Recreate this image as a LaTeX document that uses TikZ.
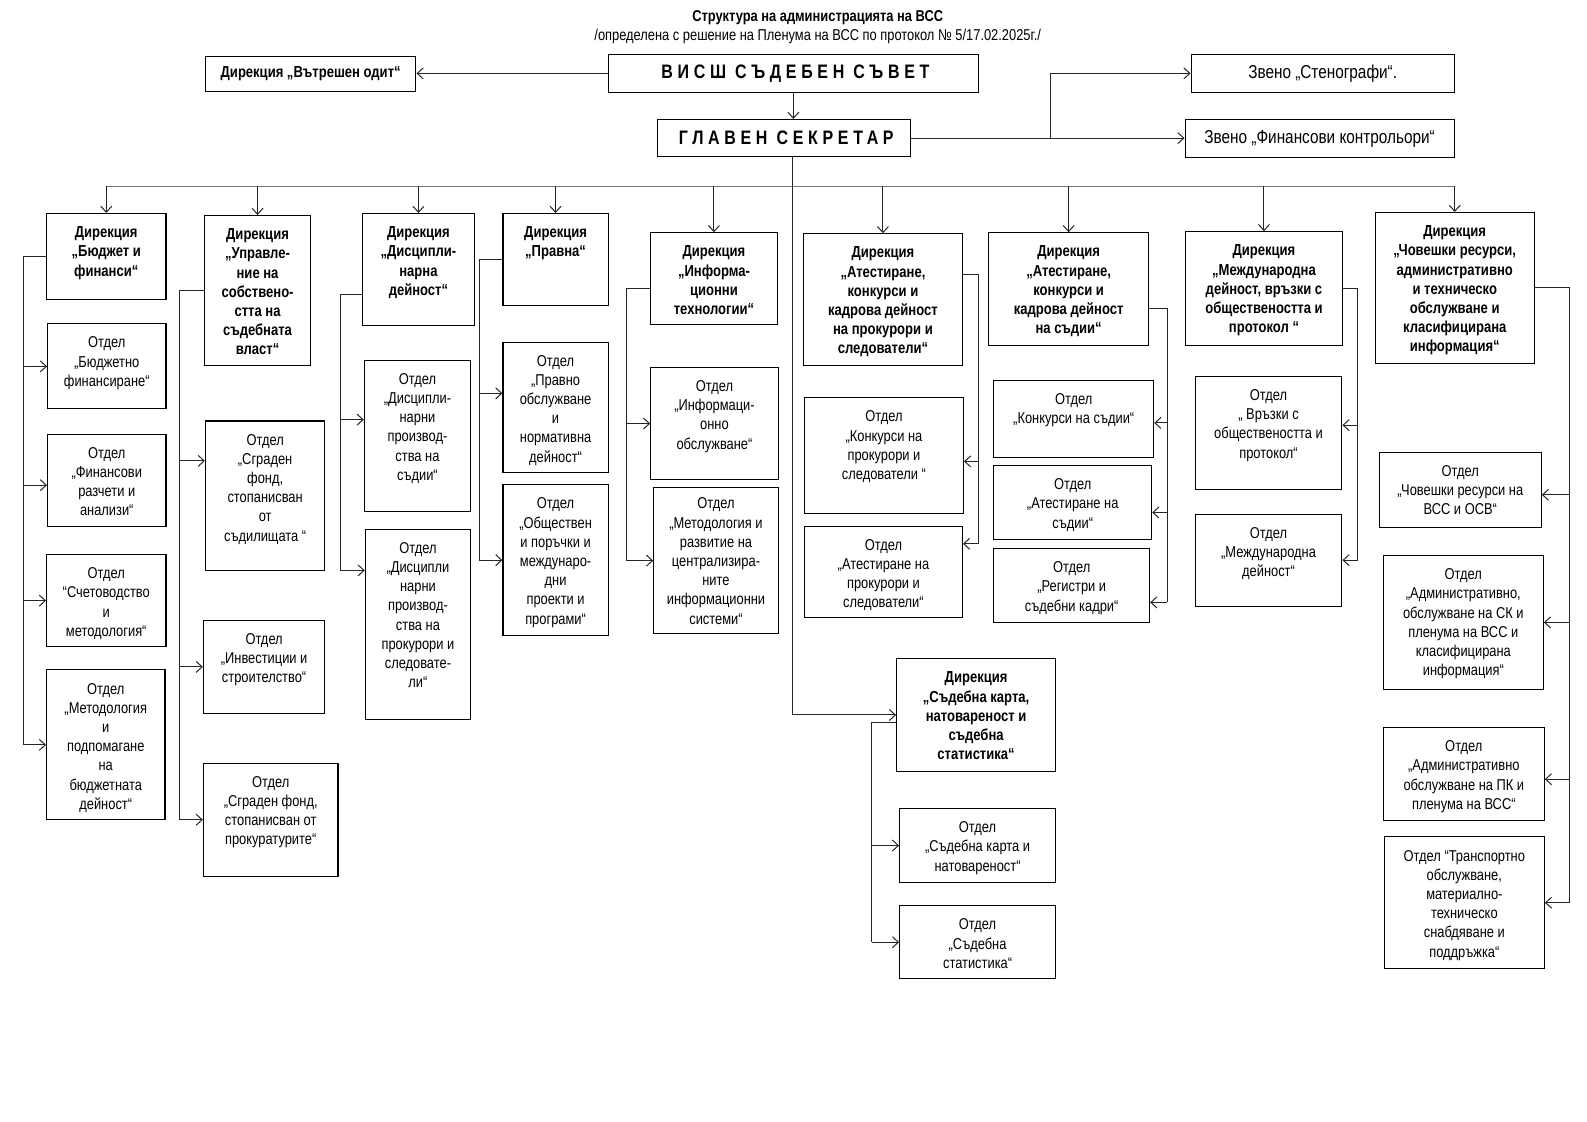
\documentclass[tikz,border=0pt]{standalone}
\usepackage{fontspec}
\setmainfont{Liberation Sans}[FakeStretch=0.82]
\newfontfamily\spcfont{Liberation Sans}[FakeStretch=0.82, LetterSpace=24]
\usetikzlibrary{fit,arrows.meta}
\newcommand\mkbox[7][0]{%
  \node[box, fit={(#3,#4)(#5,#6)}] (#2) {};
  \node[txt, anchor=north] (#2-t) at ([yshift=-13.5pt,yshift=#1pt]#2.north) {#7};}
\newcommand\mkdir[7][0]{%
  \node[box, fit={(#3,#4)(#5,#6)}] (#2) {};
  \node[txt, font=\bfseries\fontsize{15.9}{19.2}\selectfont, anchor=north] (#2-t) at ([yshift=-13.5pt,yshift=#1pt]#2.north) {#7};}
\tikzset{
  box/.style={draw=black, line width=1.1pt, inner sep=0pt},
  txt/.style={inner sep=0pt, align=center, font=\fontsize{15.7}{19.2}\selectfont,
    execute at begin node={\rule{0pt}{12pt}}},
  ln/.style={line width=1pt, draw=black!85},
  arr/.style={ln, -{Straight Barb[length=6pt,width=11pt]}},
  busline/.style={line width=1.4pt, draw=black!55},
}
\begin{document}
\begin{tikzpicture}[x=1.012pt,y=-1.012pt]
% titles
\node[font=\bfseries\fontsize{15.7}{19}\selectfont, inner sep=0pt] (title) at (808,17) {Структура  на администрацията на ВСС};
\node[font=\fontsize{15.7}{19}\selectfont, inner sep=0pt] (subtitle) at (808,36) {/определена с решение на Пленума на ВСС по протокол № 5/17.02.2025г./};
% top level
\node[box, fit={(601,54)(967,91)}] (vss) {};
\node[font=\spcfont\bfseries\fontsize{19.5}{22}\selectfont, inner sep=0pt] (vss-t) at ([xshift=2pt]vss.center) {ВИСШ СЪДЕБЕН СЪВЕТ};
\node[box, fit={(650,118)(900,155)}] (gs) {};
\node[font=\spcfont\bfseries\fontsize{19.5}{22}\selectfont, inner sep=0pt] (gs-t) at ([xshift=2pt]gs.center) {ГЛАВЕН СЕКРЕТАР};
\node[box, fit={(203,56)(411,90)}] (odit) {};
\node[font=\bfseries\fontsize{15.9}{19}\selectfont, inner sep=0pt] (odit-t) at (odit.center) {Дирекция „Вътрешен одит“};
\node[box, fit={(1177,54)(1437,91)}] (sten) {};
\node[font=\fontsize{18.7}{22}\selectfont, inner sep=0pt] (sten-t) at (sten.center) {Звено „Стенографи“.};
\node[box, fit={(1171,118)(1437,156)}] (fin) {};
\node[font=\fontsize{18.7}{22}\selectfont, inner sep=0pt] (fin-t) at (fin.center) {Звено „Финансови контрольори“};
% directorates
\mkdir{d1}{46}{211}{164}{296}{Дирекция\\„Бюджет и\\финанси“}
\mkdir{d2}{202}{213}{307}{361}{Дирекция\\„Управле-\\ние на\\собствено-\\стта на\\съдебната\\власт“}
\mkdir{d3}{358}{211}{469}{322}{Дирекция\\„Дисципли-\\нарна\\дейност“}
\mkdir{d4}{497}{211}{601}{302}{Дирекция\\„Правна“}
\mkdir{d5}{643}{230}{768}{321}{Дирекция\\„Информа-\\ционни\\технологии“}
\mkdir{d6}{794}{231}{951}{361}{Дирекция\\„Атестиране,\\конкурси и\\кадрова дейност\\на прокурори и\\следователи“}
\mkdir{d7}{977}{230}{1135}{341}{Дирекция\\„Атестиране,\\конкурси и\\кадрова дейност\\на съдии“}
\mkdir{d8}{1171}{229}{1327}{341}{Дирекция\\„Международна\\дейност,  връзки с\\обществеността  и\\протокол “}
\mkdir{d9}{1359}{210}{1516}{359}{Дирекция\\„Човешки ресурси,\\административно\\и техническо\\обслужване  и\\класифицирана\\информация“}
\mkdir{d10}{886}{651}{1043}{762}{Дирекция\\„Съдебна карта,\\натовареност  и\\съдебна\\статистика“}
% departments
\mkbox{o11}{47}{320}{164}{404}{Отдел\\„Бюджетно\\финансиране“}
\mkbox{o12}{47}{429}{164}{520}{Отдел\\„Финансови\\разчети и\\анализи“}
\mkbox{o13}{46}{548}{164}{639}{Отдел\\“Счетоводство\\и\\методология“}
\mkbox{o14}{46}{662}{163}{810}{Отдел\\„Методология\\и\\подпомагане\\на\\бюджетната\\дейност“}
\mkbox{o21}{203}{416}{321}{564}{Отдел\\„Сграден\\фонд,\\стопанисван\\от\\съдилищата “}
\mkbox{o22}{201}{613}{321}{705}{Отдел\\„Инвестиции и\\строителство“}
\mkbox{o23}{201}{754}{334}{866}{Отдел\\„Сграден фонд,\\стопанисван от\\прокуратурите“}
\mkbox{o31}{360}{356}{465}{505}{Отдел\\„Дисципли-\\нарни\\производ-\\ства на\\съдии“}
\mkbox{o32}{361}{523}{465}{711}{Отдел\\„Дисципли\\нарни\\производ-\\ства на\\прокурори и\\следовате-\\ли“}
\mkbox{o41}{497}{338}{601}{467}{Отдел\\„Правно\\обслужване\\и\\нормативна\\дейност“}
\mkbox{o42}{497}{479}{601}{628}{Отдел\\„Обществен\\и поръчки и\\междунаро-\\дни\\проекти  и\\програми“}
\mkbox{o51}{643}{363}{769}{474}{Отдел\\„Информаци-\\онно\\обслужване“}
\mkbox[3]{o52}{646}{482}{769}{626}{Отдел\\„Методология и\\развитие на\\централизира-\\ните\\информационни\\системи“}
\mkbox{o61}{795}{393}{952}{507}{Отдел\\„Конкурси на\\прокурори и\\следователи “}
\mkbox{o62}{795}{520}{951}{610}{Отдел\\„Атестиране на\\прокурори и\\следователи“}
\mkbox{o71}{982}{376}{1140}{452}{Отдел\\„Конкурси на съдии“}
\mkbox{o72}{982}{460}{1138}{533}{Отдел\\„Атестиране на\\съдии“}
\mkbox{o73}{982}{542}{1136}{615}{Отдел\\„Регистри и\\съдебни кадри“}
\mkbox{o81}{1181}{372}{1326}{484}{Отдел\\„ Връзки с\\обществеността и\\протокол“}
\mkbox{o82}{1181}{508}{1326}{599}{Отдел\\„Международна\\дейност“}
\mkbox{o91}{1363}{447}{1523}{521}{Отдел\\„Човешки ресурси на\\ВСС и ОСВ“}
\mkbox{o92}{1367}{549}{1525}{681}{Отдел\\„Административно,\\обслужване на СК и\\пленума на ВСС и\\класифицирана\\информация“}
\mkbox{o93}{1367}{719}{1526}{811}{Отдел\\„Административно\\обслужване на ПК и\\пленума на ВСС“}
\mkbox{o94}{1368}{827}{1526}{957}{Отдел “Транспортно\\обслужване,\\материално-\\техническо\\снабдяване и\\поддръжка“}
\mkbox{o101}{889}{799}{1043}{872}{Отдел\\„Съдебна карта и\\натовареност“}
\mkbox{o102}{889}{895}{1043}{967}{Отдел\\„Съдебна\\статистика“}
% top connectors
\draw[arr] (vss.west) -- (vss.west -| odit.east);
\draw[arr] (vss.south) -- (vss.south |- gs.north);
\coordinate (jn) at (1038,136.5);
\draw[arr] (gs.east) -- (jn) |- (sten.west);
\draw[arr] (jn) -- (jn -| fin.west);
% bus
\coordinate (bus) at (0,184);
\draw[busline] ([xshift=8pt]gs.south) -- ([xshift=8pt]gs.south |- bus);
\draw[busline] (d1.north |- bus) -- (d9.north |- bus);
\foreach \d in {d1,d2,d3,d4,d5,d6,d7,d8,d9}{
  \draw[arr] (\d.north |- bus) -- (\d.north);
}
\draw[arr] ([xshift=8pt]gs.south) |- (d10.west);
% left-side trunks
\draw[ln] (d1.west) -- ++(-22,0) coordinate (t1) -- (t1 |- o14.west);
\draw[arr] (t1 |- o11.west) -- (o11.west);
\draw[arr] ([yshift=-5pt]t1 |- o12.west) -- ([yshift=-5pt]o12.west);
\draw[arr] (t1 |- o13.west) -- (o13.west);
\draw[arr] (t1 |- o14.west) -- (o14.west);
\draw[ln] (d2.west) -- ++(-24,0) coordinate (t2) -- (t2 |- o23.west);
\draw[arr] ([yshift=35pt]t2 |- o21.west) -- ([yshift=35pt]o21.west);
\draw[arr] (t2 |- o22.west) -- (o22.west);
\draw[arr] (t2 |- o23.west) -- (o23.west);
\draw[ln] ([yshift=-25pt]d3.west) -- ++(-21,0) coordinate (t3) -- ([yshift=54pt]t3 |- o32.west);
\draw[arr] ([yshift=16pt]t3 |- o31.west) -- ([yshift=16pt]o31.west);
\draw[arr] ([yshift=54pt]t3 |- o32.west) -- ([yshift=54pt]o32.west);
\draw[ln] (d4.west) -- ++(-23,0) coordinate (t4) -- (t4 |- o42.west);
\draw[arr] ([yshift=14pt]t4 |- o41.west) -- ([yshift=14pt]o41.west);
\draw[arr] (t4 |- o42.west) -- (o42.west);
\draw[ln] ([yshift=-10pt]d5.west) -- ++(-23,0) coordinate (t5) -- (t5 |- o52.west);
\draw[arr] (t5 |- o51.west) -- (o51.west);
\draw[arr] (t5 |- o52.west) -- (o52.west);
\draw[ln] ([yshift=-8pt]d10.west) -- ++(-24,0) coordinate (t10) -- (t10 |- o102.west);
\draw[arr] (t10 |- o101.west) -- (o101.west);
\draw[arr] (t10 |- o102.west) -- (o102.west);
% right-side trunks
\draw[ln] ([yshift=25pt]d6.east) -- ++(15,0) coordinate (t6) -- ([yshift=28pt]t6 |- o62.east);
\draw[arr] ([yshift=-6pt]t6 |- o61.east) -- ([yshift=-6pt]o61.east);
\draw[arr] ([yshift=28pt]t6 |- o62.east) -- ([yshift=28pt]o62.east);
\draw[ln] ([yshift=-20pt]d7.east) -- ++(18,0) coordinate (t7) -- ([yshift=-17pt]t7 |- o73.east);
\draw[arr] ([yshift=-4pt]t7 |- o71.east) -- ([yshift=-4pt]o71.east);
\draw[arr] ([yshift=-10pt]t7 |- o72.east) -- ([yshift=-10pt]o72.east);
\draw[arr] ([yshift=-17pt]t7 |- o73.east) -- ([yshift=-17pt]o73.east);
\draw[ln] (d8.east) -- ++(14,0) coordinate (t8) -- (t8 |- o82.east);
\draw[arr] ([yshift=8pt]t8 |- o81.east) -- ([yshift=8pt]o81.east);
\draw[arr] (t8 |- o82.east) -- (o82.east);
\draw[ln] (d9.east) -- ++(34,0) coordinate (t9) -- (t9 |- o94.east);
\draw[arr] ([yshift=-5pt]t9 |- o91.east) -- ([yshift=-5pt]o91.east);
\draw[arr] (t9 |- o92.east) -- (o92.east);
\draw[arr] ([yshift=-5pt]t9 |- o93.east) -- ([yshift=-5pt]o93.east);
\draw[arr] (t9 |- o94.east) -- (o94.east);
\pgfresetboundingbox
\path[use as bounding box] (0,0) rectangle (1568.2,1108.7);
\end{tikzpicture}
\end{document}
